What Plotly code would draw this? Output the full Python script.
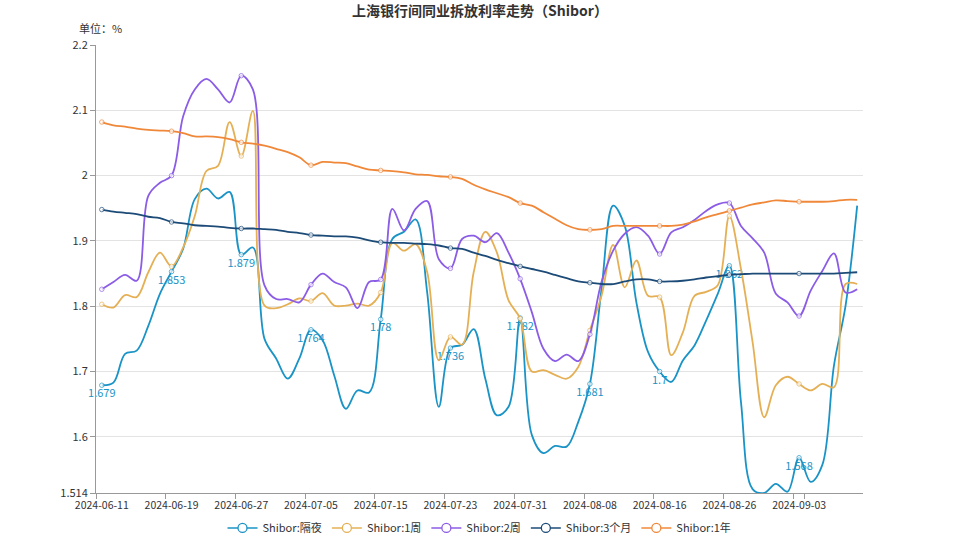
import plotly.graph_objects as go

dates = [
    "2024-06-11", "2024-06-12", "2024-06-13", "2024-06-14", "2024-06-17", "2024-06-18",
    "2024-06-19", "2024-06-20", "2024-06-21", "2024-06-24", "2024-06-25", "2024-06-26",
    "2024-06-27", "2024-06-28", "2024-07-01", "2024-07-02", "2024-07-03", "2024-07-04",
    "2024-07-05", "2024-07-08", "2024-07-09", "2024-07-10", "2024-07-11", "2024-07-12",
    "2024-07-15", "2024-07-16", "2024-07-17", "2024-07-18", "2024-07-19", "2024-07-22",
    "2024-07-23", "2024-07-24", "2024-07-25", "2024-07-26", "2024-07-29", "2024-07-30",
    "2024-07-31", "2024-08-01", "2024-08-02", "2024-08-05", "2024-08-06", "2024-08-07",
    "2024-08-08", "2024-08-09", "2024-08-12", "2024-08-13", "2024-08-14", "2024-08-15",
    "2024-08-16", "2024-08-19", "2024-08-20", "2024-08-21", "2024-08-22", "2024-08-23",
    "2024-08-26", "2024-08-27", "2024-08-28", "2024-08-29", "2024-08-30", "2024-09-02",
    "2024-09-03", "2024-09-04", "2024-09-05", "2024-09-06", "2024-09-09", "2024-09-10",
]

on = [
    1.679, 1.683, 1.727, 1.732, 1.770, 1.819, 1.853, 1.888, 1.964, 1.980, 1.965, 1.975,
    1.879, 1.890, 1.750, 1.720, 1.689, 1.720, 1.764, 1.748, 1.694, 1.643, 1.671, 1.668,
    1.78, 1.903, 1.914, 1.933, 1.821, 1.646, 1.736, 1.741, 1.765, 1.689, 1.633, 1.646,
    1.782, 1.603, 1.575, 1.586, 1.585, 1.623, 1.681, 1.826, 1.954, 1.923, 1.806, 1.730,
    1.7, 1.684, 1.717, 1.740, 1.778, 1.819, 1.862, 1.653, 1.520, 1.514, 1.528, 1.516,
    1.568, 1.531, 1.557, 1.709, 1.801, 1.954,
]

w1 = [
    1.803, 1.798, 1.817, 1.814, 1.852, 1.882, 1.861, 1.890, 1.938, 2.007, 2.015, 2.082,
    2.030, 2.099, 1.801, 1.797, 1.803, 1.812, 1.808, 1.820, 1.801, 1.801, 1.804, 1.801,
    1.821, 1.897, 1.885, 1.895, 1.852, 1.717, 1.753, 1.741, 1.852, 1.914, 1.882, 1.809,
    1.781, 1.700, 1.702, 1.695, 1.689, 1.707, 1.763, 1.816, 1.894, 1.829, 1.870, 1.816,
    1.814, 1.725, 1.760, 1.816, 1.822, 1.832, 1.938, 1.857, 1.745, 1.630, 1.679, 1.692,
    1.681, 1.671, 1.681, 1.676, 1.834, 1.834,
]

w2 = [
    1.826, 1.837, 1.848, 1.839, 1.969, 1.989, 2.000, 2.091, 2.132, 2.148, 2.132, 2.112,
    2.153, 2.132, 1.832, 1.811, 1.811, 1.806, 1.833, 1.850, 1.837, 1.829, 1.797, 1.837,
    1.841, 1.949, 1.916, 1.949, 1.961, 1.872, 1.858, 1.903, 1.908, 1.898, 1.912, 1.882,
    1.842, 1.791, 1.735, 1.716, 1.726, 1.716, 1.757, 1.837, 1.885, 1.911, 1.921, 1.908,
    1.880, 1.913, 1.921, 1.932, 1.946, 1.956, 1.958, 1.923, 1.904, 1.882, 1.819, 1.806,
    1.785, 1.824, 1.854, 1.881, 1.821, 1.826,
]

m3 = [
    1.948, 1.945, 1.943, 1.941, 1.937, 1.935, 1.929, 1.927, 1.924, 1.923, 1.922, 1.920,
    1.919, 1.919, 1.918, 1.917, 1.914, 1.912, 1.909, 1.908, 1.907, 1.907, 1.905, 1.901,
    1.898, 1.897, 1.897, 1.896, 1.895, 1.893, 1.889, 1.888, 1.882, 1.877, 1.871, 1.866,
    1.861, 1.857, 1.853, 1.848, 1.843, 1.838, 1.836, 1.834, 1.834, 1.838, 1.841, 1.841,
    1.838, 1.838, 1.839, 1.841, 1.844, 1.846, 1.848, 1.849, 1.850, 1.850, 1.850, 1.850,
    1.850, 1.850, 1.850, 1.850, 1.851, 1.852,
]

y1 = [
    2.082, 2.077, 2.075, 2.072, 2.070, 2.069, 2.068, 2.065, 2.060, 2.060, 2.059, 2.056,
    2.051, 2.049, 2.046, 2.041, 2.036, 2.028, 2.016, 2.021, 2.020, 2.019, 2.014, 2.009,
    2.008, 2.007, 2.005, 2.002, 2.001, 1.999, 1.998, 1.995, 1.986, 1.979, 1.973, 1.967,
    1.958, 1.954, 1.944, 1.934, 1.924, 1.918, 1.917, 1.918, 1.923, 1.923, 1.923, 1.923,
    1.923, 1.923, 1.925, 1.930, 1.936, 1.941, 1.946, 1.951, 1.956, 1.959, 1.962, 1.961,
    1.960, 1.960, 1.960, 1.961, 1.963, 1.963,
]

series_names = ["Shibor:隔夜", "Shibor:1周", "Shibor:2周", "Shibor:3个月", "Shibor:1年"]
series_values = [on, w1, w2, m3, y1]
colors = ["#1a93c6", "#e5b055", "#8b5ce6", "#1d4b78", "#f0883a"]

y_ticks = [1.514, 1.6, 1.7, 1.8, 1.9, 2.0, 2.1, 2.2]
y_ticktext = ["1.514", "1.6", "1.7", "1.8", "1.9", "2", "2.1", "2.2"]

STEP = 6
FONT = "Noto Sans CJK SC"

fig = go.Figure()
for k, (name, vals, col) in enumerate(zip(series_names, series_values, colors)):
    sizes = [4.5 if i % STEP == 0 else 0 for i in range(len(vals))]
    texts = [(f"{v:g}" if (i % STEP == 0 and k == 0) else "") for i, v in enumerate(vals)]
    fig.add_trace(go.Scatter(
        x=dates, y=vals, name=name, legendgroup=name, showlegend=False,
        mode="lines+markers+text" if k == 0 else "lines+markers",
        line=dict(color=col, width=1.8, shape="spline", smoothing=1.0),
        marker=dict(size=sizes, color="white", line=dict(color=col, width=1)),
        text=texts if k == 0 else None,
        textposition="bottom center",
        textfont=dict(color=col, size=11, family=FONT),
        cliponaxis=False,
        hoverinfo="x+y+name",
    ))
for name, col in zip(series_names, colors):
    fig.add_trace(go.Scatter(
        x=[None], y=[None], name=name, legendgroup=name, showlegend=True,
        mode="lines+markers",
        line=dict(color=col, width=1.5),
        marker=dict(size=9, color="white", line=dict(color=col, width=1.3)),
    ))

fig.update_layout(
    width=959, height=539,
    margin=dict(l=96, r=96, t=45, b=46, autoexpand=False),
    paper_bgcolor="white", plot_bgcolor="white",
    font=dict(family=FONT, size=11, color="#333333"),
    title=dict(text="<b>上海银行间同业拆放利率走势（Shibor）</b>", x=480 / 959, xanchor="center",
               xref="container",
               y=1 - 11 / 539, yanchor="middle", yref="container",
               font=dict(size=14, color="#333333", family=FONT)),
    showlegend=True,
    legend=dict(orientation="h", x=0.5, xanchor="center", y=-0.078, yanchor="middle",
                font=dict(size=11, color="#333333", family=FONT),
                itemwidth=30, traceorder="normal"),
    annotations=[dict(text="单位：%", x=-0.025, xref="paper", xanchor="left",
                      y=1.038, yref="paper", yanchor="middle", showarrow=False,
                      font=dict(size=11, color="#333333", family=FONT))],
)
fig.update_xaxes(
    type="category", range=[-0.5, len(dates) - 0.5], automargin=False,
    tickmode="array", tickvals=dates[::STEP], ticktext=dates[::STEP], tickangle=0,
    tickson="boundaries", ticks="outside", ticklen=5, tickcolor="#999999",
    ticklabelstandoff=2,
    showline=True, linecolor="#999999", linewidth=1, showgrid=False,
    tickfont=dict(size=10.5, color="#333333"), zeroline=False,
)
fig.update_yaxes(
    range=[1.514, 2.2], tickmode="array", tickvals=y_ticks, ticktext=y_ticktext,
    automargin=False,
    ticks="outside", ticklen=5, tickcolor="#999999",
    showline=True, linecolor="#999999", linewidth=1,
    showgrid=True, gridcolor="#e3e3e3", gridwidth=1, zeroline=False,
    tickfont=dict(size=11, color="#333333"),
)

fig.write_html("out.html", config={"displayModeBar": False},
               post_script="document.body.style.margin='0';document.body.style.overflow='hidden';")
